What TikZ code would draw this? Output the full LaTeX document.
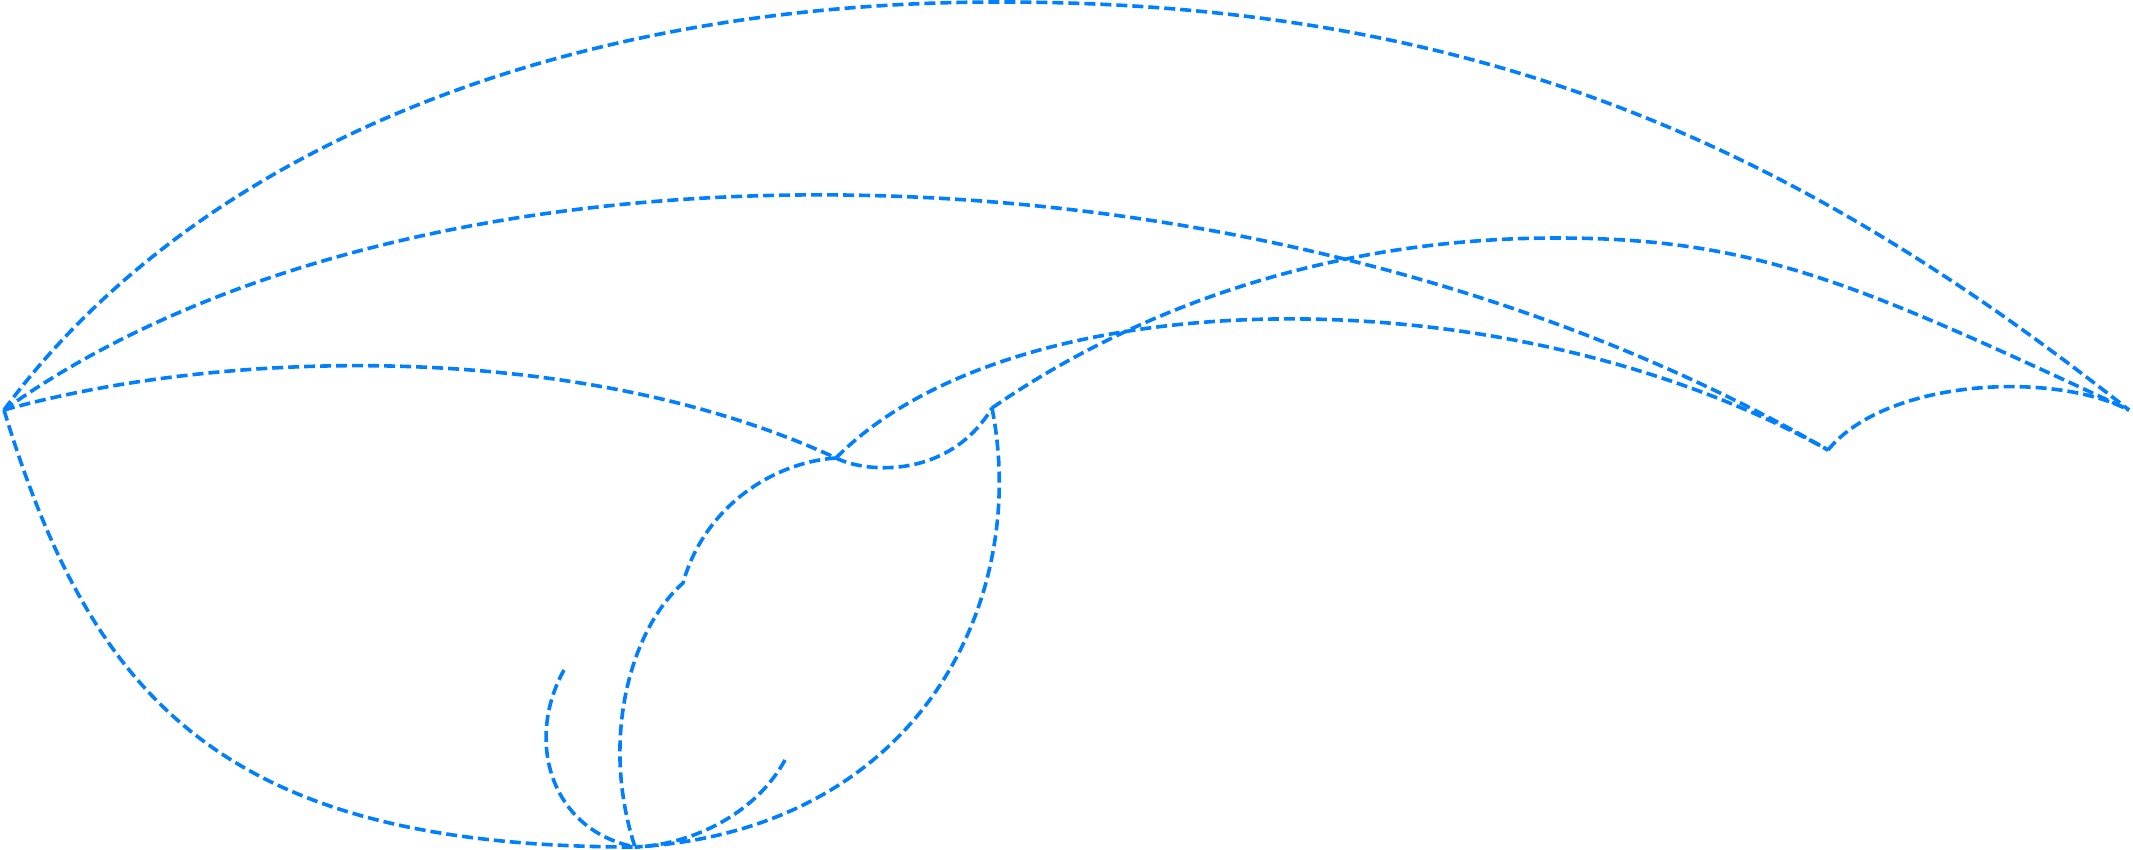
\documentclass[tikz,border=0pt]{standalone}
\begin{document}
\begin{tikzpicture}[x=1pt,y=-1pt,
  curve/.style={draw=lineblue, line width=3.6pt, dash pattern=on 11pt off 5pt}]
\definecolor{lineblue}{RGB}{0,127,255}
\useasboundingbox (0,0) rectangle (2133,850);
% named vertices
\coordinate (A) at (4,410);
\coordinate (B) at (2129,410);
\coordinate (C) at (1828,450);
\coordinate (D) at (836,458);
\coordinate (E) at (992,408);
\coordinate (F) at (635,847);
\coordinate (G) at (683,583);
\coordinate (T1) at (1000,2);
\coordinate (Pk) at (1556,238);
\coordinate (S11) at (564,670);
\coordinate (S12) at (785,760);
% big top arc
\draw[curve] (A) .. controls (191,156) and (550,2) .. (T1)
             .. controls (1500,2) and (1814,162) .. (B);
% second arc A -> C
\draw[curve] (A) .. controls (420,112) and (1260,122) .. (C);
% A -> D
\draw[curve] (A) .. controls (226,348) and (581,340) .. (D);
% D -> C
\draw[curve] (D) .. controls (1011,280) and (1500,268) .. (C);
% D -> E
\draw[curve] (D) .. controls (868,474) and (950,478) .. (E);
% E -> B
\draw[curve] (E) .. controls (1157,294) and (1356,238) .. (Pk)
             .. controls (1756,238) and (1856,283) .. (B);
% C -> B
\draw[curve] (C) .. controls (1885,380) and (2050,370) .. (B);
% A -> F lower arc
\draw[curve] (A) .. controls (92,700) and (224,847) .. (F);
% E -> F
\draw[curve] (E) .. controls (1030,600) and (920,830) .. (F);
% D -> G -> F
\draw[curve] (D) .. controls (775,462) and (705,505) .. (G)
             .. controls (630,630) and (600,740) .. (F);
% small arcs
\draw[curve] (S11) .. controls (525,740) and (550,830) .. (F);
\draw[curve] (S12) .. controls (755,815) and (690,845) .. (F);
\end{tikzpicture}
\end{document}
